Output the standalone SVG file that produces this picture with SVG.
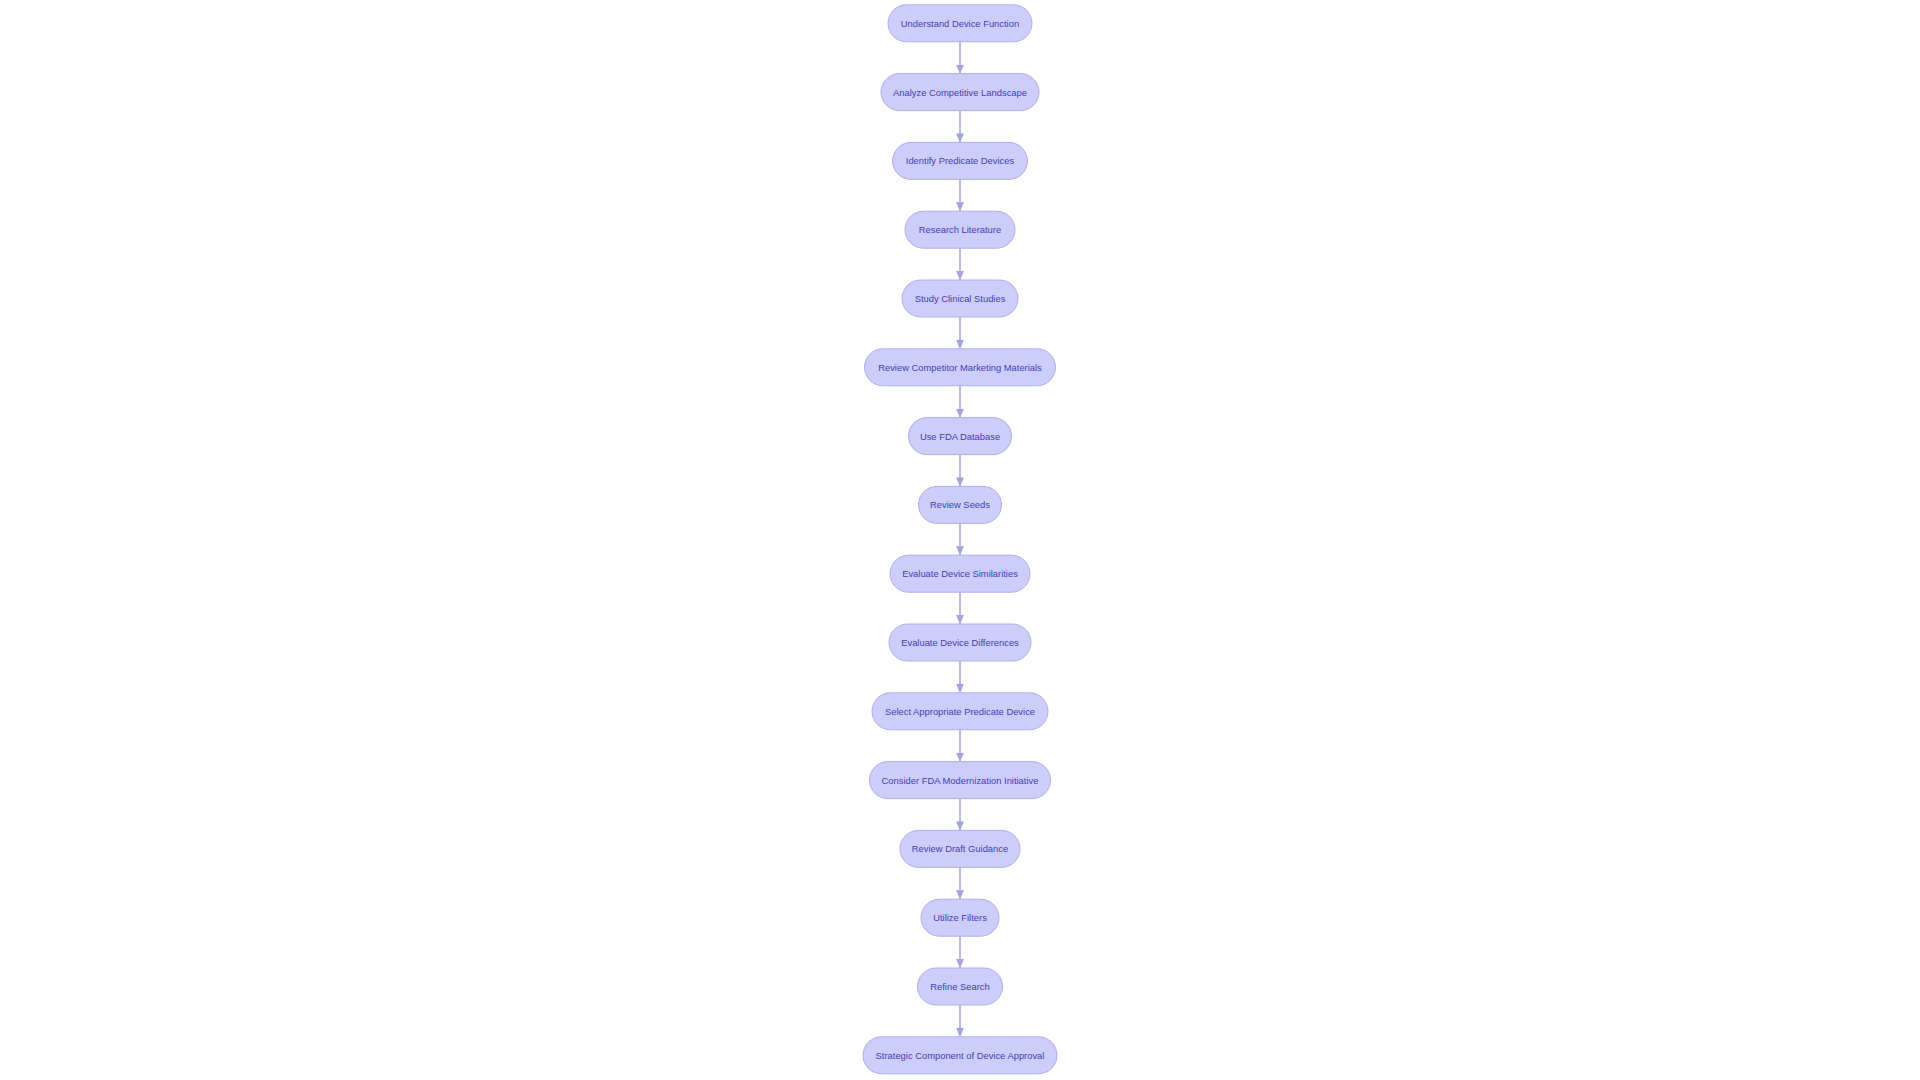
<svg xmlns="http://www.w3.org/2000/svg" width="1920" height="1080" viewBox="0 0 1920 1080">
<defs>
<style>
.node rect{fill:#cdcdfa;stroke:#aeaeee;stroke-width:1}
.node text{font-family:"Liberation Sans",Arial,sans-serif;font-size:9.4px;fill:#4141b4;text-anchor:middle;dominant-baseline:central}
.edge{stroke:#a3a3e3;stroke-width:1.5;fill:none}
</style>
<marker id="ah" markerWidth="10" markerHeight="8" refX="9" refY="4" orient="auto" markerUnits="userSpaceOnUse">
<path d="M0,0 L9,4 L0,8 z" fill="#a3a3e3"/>
</marker>
</defs>
<rect width="1920" height="1080" fill="#ffffff"/>
<g id="connectors">
<line class="edge" x1="960" y1="41.8" x2="960" y2="73.6" marker-end="url(#ah)"/>
<line class="edge" x1="960" y1="110.6" x2="960" y2="142.4" marker-end="url(#ah)"/>
<line class="edge" x1="960" y1="179.4" x2="960" y2="211.2" marker-end="url(#ah)"/>
<line class="edge" x1="960" y1="248.2" x2="960" y2="280" marker-end="url(#ah)"/>
<line class="edge" x1="960" y1="317" x2="960" y2="348.8" marker-end="url(#ah)"/>
<line class="edge" x1="960" y1="385.8" x2="960" y2="417.6" marker-end="url(#ah)"/>
<line class="edge" x1="960" y1="454.6" x2="960" y2="486.4" marker-end="url(#ah)"/>
<line class="edge" x1="960" y1="523.4" x2="960" y2="555.2" marker-end="url(#ah)"/>
<line class="edge" x1="960" y1="592.2" x2="960" y2="624" marker-end="url(#ah)"/>
<line class="edge" x1="960" y1="661" x2="960" y2="692.8" marker-end="url(#ah)"/>
<line class="edge" x1="960" y1="729.8" x2="960" y2="761.6" marker-end="url(#ah)"/>
<line class="edge" x1="960" y1="798.6" x2="960" y2="830.4" marker-end="url(#ah)"/>
<line class="edge" x1="960" y1="867.4" x2="960" y2="899.2" marker-end="url(#ah)"/>
<line class="edge" x1="960" y1="936.2" x2="960" y2="968" marker-end="url(#ah)"/>
<line class="edge" x1="960" y1="1005" x2="960" y2="1036.8" marker-end="url(#ah)"/>
</g>
<g id="n1" class="node"><rect x="888" y="4.8" width="144" height="37" rx="18.5"/><text x="960" y="23.3">Understand Device Function</text></g>
<g id="n2" class="node"><rect x="881" y="73.6" width="158" height="37" rx="18.5"/><text x="960" y="92.1">Analyze Competitive Landscape</text></g>
<g id="n3" class="node"><rect x="892.5" y="142.4" width="135" height="37" rx="18.5"/><text x="960" y="160.9">Identify Predicate Devices</text></g>
<g id="n4" class="node"><rect x="905" y="211.2" width="110" height="37" rx="18.5"/><text x="960" y="229.7">Research Literature</text></g>
<g id="n5" class="node"><rect x="902" y="280" width="116" height="37" rx="18.5"/><text x="960" y="298.5">Study Clinical Studies</text></g>
<g id="n6" class="node"><rect x="864.5" y="348.8" width="191" height="37" rx="18.5"/><text x="960" y="367.3">Review Competitor Marketing Materials</text></g>
<g id="n7" class="node"><rect x="908.5" y="417.6" width="103" height="37" rx="18.5"/><text x="960" y="436.1">Use FDA Database</text></g>
<g id="n8" class="node"><rect x="918.5" y="486.4" width="83" height="37" rx="18.5"/><text x="960" y="504.9">Review Seeds</text></g>
<g id="n9" class="node"><rect x="890" y="555.2" width="140" height="37" rx="18.5"/><text x="960" y="573.7">Evaluate Device Similarities</text></g>
<g id="n10" class="node"><rect x="889" y="624" width="142" height="37" rx="18.5"/><text x="960" y="642.5">Evaluate Device Differences</text></g>
<g id="n11" class="node"><rect x="872" y="692.8" width="176" height="37" rx="18.5"/><text x="960" y="711.3">Select Appropriate Predicate Device</text></g>
<g id="n12" class="node"><rect x="869.5" y="761.6" width="181" height="37" rx="18.5"/><text x="960" y="780.1">Consider FDA Modernization Initiative</text></g>
<g id="n13" class="node"><rect x="900" y="830.4" width="120" height="37" rx="18.5"/><text x="960" y="848.9">Review Draft Guidance</text></g>
<g id="n14" class="node"><rect x="921" y="899.2" width="78" height="37" rx="18.5"/><text x="960" y="917.7">Utilize Filters</text></g>
<g id="n15" class="node"><rect x="917.5" y="968" width="85" height="37" rx="18.5"/><text x="960" y="986.5">Refine Search</text></g>
<g id="n16" class="node"><rect x="863" y="1036.8" width="194" height="37" rx="18.5"/><text x="960" y="1055.3">Strategic Component of Device Approval</text></g>
</svg>
